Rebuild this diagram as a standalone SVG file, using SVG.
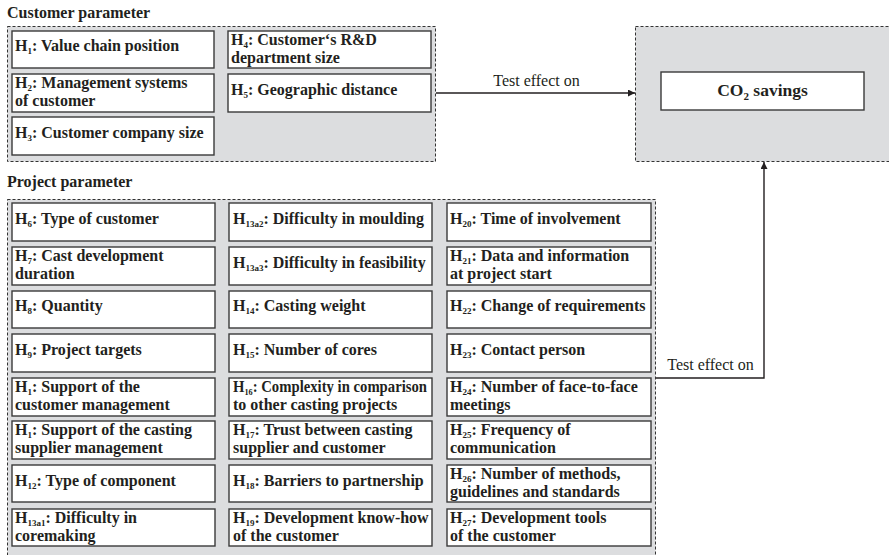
<svg xmlns="http://www.w3.org/2000/svg" width="889" height="555" viewBox="0 0 889 555">
<defs>
<style>
.bg{fill:#dcdddf;stroke:#333;stroke-width:1;stroke-dasharray:3,2}
.box{fill:#fff;stroke:#3a3a3a;stroke-width:1.4}
.t{font-family:"Liberation Serif","Times New Roman",serif;font-size:16px;font-weight:bold;fill:#231f20}
.s{font-size:9px}
.lbl{font-family:"Liberation Serif","Times New Roman",serif;font-size:16px;fill:#231f20}
.ttl{font-family:"Liberation Serif","Times New Roman",serif;font-size:16px;font-weight:bold;fill:#231f20}
.con{fill:none;stroke:#231f20;stroke-width:1.4}
</style>
<marker id="arr" viewBox="0 0 10 10" refX="10" refY="5" markerWidth="7" markerHeight="7" markerUnits="userSpaceOnUse" orient="auto">
<path d="M0,0 L10,5 L0,10 z" fill="#231f20"/>
</marker>
</defs>
<rect width="889" height="555" fill="#fff"/>

<g id="customer-group">
<text class="ttl" x="7" y="18">Customer parameter</text>
<rect class="bg" x="7.5" y="26.5" width="428" height="135"/>
</g>
<g id="project-group">
<text class="ttl" x="7" y="187">Project parameter</text>
<rect class="bg" x="7.5" y="199.5" width="648" height="365"/>
</g>
<g id="co2-group">
<rect class="bg" x="635.5" y="26.5" width="262" height="135"/>
</g>

<g id="connectors">
<path class="con" d="M436,93 H635" marker-end="url(#arr)"/>
<text class="lbl" x="536.5" y="86" text-anchor="middle">Test effect on</text>
<path class="con" d="M656,378 H764 V162" marker-end="url(#arr)"/>
<text class="lbl" x="710.5" y="370" text-anchor="middle">Test effect on</text>
</g>

<g id="co2">
<rect class="box" x="661" y="72" width="203" height="38"/>
<text class="t" x="762.5" y="96" text-anchor="middle" style="font-size:17.5px">CO<tspan style="font-size:11px" dy="4">2</tspan><tspan dy="-4"> savings</tspan></text>
</g>

<g id="H1">
<rect class="box" x="12" y="31" width="202" height="37"/>
<text class="t" x="15" y="51">H<tspan class="s" dy="2.5">1</tspan><tspan dy="-2.5">: Value chain position</tspan></text>
</g>
<g id="H2">
<rect class="box" x="12" y="74" width="202" height="38"/>
<text class="t" x="15" y="88">H<tspan class="s" dy="2.5">2</tspan><tspan dy="-2.5">: Management systems</tspan></text>
<text class="t" x="15" y="106">of customer</text>
</g>
<g id="H3">
<rect class="box" x="12" y="117" width="202" height="38"/>
<text class="t" x="15" y="138">H<tspan class="s" dy="2.5">3</tspan><tspan dy="-2.5">: Customer company size</tspan></text>
</g>
<g id="H4">
<rect class="box" x="228" y="31" width="203" height="37"/>
<text class="t" x="231" y="45">H<tspan class="s" dy="2.5">4</tspan><tspan dy="-2.5">: Customer‘s R&amp;D</tspan></text>
<text class="t" x="231" y="63">department size</text>
</g>
<g id="H5">
<rect class="box" x="228" y="74" width="203" height="38"/>
<text class="t" x="231" y="95">H<tspan class="s" dy="2.5">5</tspan><tspan dy="-2.5">: Geographic distance</tspan></text>
</g>

<g id="H6">
<rect class="box" x="12" y="203" width="203" height="38"/>
<text class="t" x="15" y="224">H<tspan class="s" dy="2.5">6</tspan><tspan dy="-2.5">: Type of customer</tspan></text>
</g>
<g id="H7">
<rect class="box" x="12" y="247" width="203" height="38"/>
<text class="t" x="15" y="261">H<tspan class="s" dy="2.5">7</tspan><tspan dy="-2.5">: Cast development</tspan></text>
<text class="t" x="15" y="279">duration</text>
</g>
<g id="H8">
<rect class="box" x="12" y="291" width="203" height="37"/>
<text class="t" x="15" y="311">H<tspan class="s" dy="2.5">8</tspan><tspan dy="-2.5">: Quantity</tspan></text>
</g>
<g id="H9">
<rect class="box" x="12" y="334" width="203" height="38"/>
<text class="t" x="15" y="355">H<tspan class="s" dy="2.5">9</tspan><tspan dy="-2.5">: Project targets</tspan></text>
</g>
<g id="H10">
<rect class="box" x="12" y="378" width="203" height="38"/>
<text class="t" x="15" y="392">H<tspan class="s" dy="2.5">1</tspan><tspan dy="-2.5">: Support of the</tspan></text>
<text class="t" x="15" y="410">customer management</text>
</g>
<g id="H11">
<rect class="box" x="12" y="421" width="203" height="38"/>
<text class="t" x="15" y="435">H<tspan class="s" dy="2.5">1</tspan><tspan dy="-2.5">: Support of the casting</tspan></text>
<text class="t" x="15" y="453">supplier management</text>
</g>
<g id="H12">
<rect class="box" x="12" y="465" width="203" height="37"/>
<text class="t" x="15" y="486">H<tspan class="s" dy="2.5">12</tspan><tspan dy="-2.5">: Type of component</tspan></text>
</g>
<g id="H13a1">
<rect class="box" x="12" y="509" width="203" height="37"/>
<text class="t" x="15" y="523">H<tspan class="s" dy="2.5">13a1</tspan><tspan dy="-2.5">: Difficulty in</tspan></text>
<text class="t" x="15" y="541">coremaking</text>
</g>

<g id="H13a2">
<rect class="box" x="229" y="203" width="203" height="38"/>
<text class="t" x="233" y="224">H<tspan class="s" dy="2.5">13a2</tspan><tspan dy="-2.5">: Difficulty in moulding</tspan></text>
</g>
<g id="H13a3">
<rect class="box" x="229" y="247" width="203" height="38"/>
<text class="t" x="233" y="268">H<tspan class="s" dy="2.5">13a3</tspan><tspan dy="-2.5">: Difficulty in feasibility</tspan></text>
</g>
<g id="H14">
<rect class="box" x="229" y="291" width="203" height="37"/>
<text class="t" x="233" y="311">H<tspan class="s" dy="2.5">14</tspan><tspan dy="-2.5">: Casting weight</tspan></text>
</g>
<g id="H15">
<rect class="box" x="229" y="334" width="203" height="38"/>
<text class="t" x="233" y="355">H<tspan class="s" dy="2.5">15</tspan><tspan dy="-2.5">: Number of cores</tspan></text>
</g>
<g id="H16">
<rect class="box" x="229" y="378" width="203" height="38"/>
<text class="t" x="233" y="392" textLength="194" lengthAdjust="spacingAndGlyphs">H<tspan class="s" dy="2.5">16</tspan><tspan dy="-2.5">: Complexity in comparison</tspan></text>
<text class="t" x="233" y="410">to other casting projects</text>
</g>
<g id="H17">
<rect class="box" x="229" y="421" width="203" height="38"/>
<text class="t" x="233" y="435">H<tspan class="s" dy="2.5">17</tspan><tspan dy="-2.5">: Trust between casting</tspan></text>
<text class="t" x="233" y="453">supplier and customer</text>
</g>
<g id="H18">
<rect class="box" x="229" y="465" width="203" height="37"/>
<text class="t" x="233" y="486">H<tspan class="s" dy="2.5">18</tspan><tspan dy="-2.5">: Barriers to partnership</tspan></text>
</g>
<g id="H19">
<rect class="box" x="229" y="509" width="203" height="37"/>
<text class="t" x="233" y="523">H<tspan class="s" dy="2.5">19</tspan><tspan dy="-2.5">: Development know-how</tspan></text>
<text class="t" x="233" y="541">of the customer</text>
</g>

<g id="H20">
<rect class="box" x="447" y="203" width="204" height="38"/>
<text class="t" x="450" y="224">H<tspan class="s" dy="2.5">20</tspan><tspan dy="-2.5">: Time of involvement</tspan></text>
</g>
<g id="H21">
<rect class="box" x="447" y="247" width="204" height="38"/>
<text class="t" x="450" y="261">H<tspan class="s" dy="2.5">21</tspan><tspan dy="-2.5">: Data and information</tspan></text>
<text class="t" x="450" y="279">at project start</text>
</g>
<g id="H22">
<rect class="box" x="447" y="291" width="204" height="37"/>
<text class="t" x="450" y="311">H<tspan class="s" dy="2.5">22</tspan><tspan dy="-2.5">: Change of requirements</tspan></text>
</g>
<g id="H23">
<rect class="box" x="447" y="334" width="204" height="38"/>
<text class="t" x="450" y="355">H<tspan class="s" dy="2.5">23</tspan><tspan dy="-2.5">: Contact person</tspan></text>
</g>
<g id="H24">
<rect class="box" x="447" y="378" width="204" height="38"/>
<text class="t" x="450" y="392">H<tspan class="s" dy="2.5">24</tspan><tspan dy="-2.5">: Number of face-to-face</tspan></text>
<text class="t" x="450" y="410">meetings</text>
</g>
<g id="H25">
<rect class="box" x="447" y="421" width="204" height="38"/>
<text class="t" x="450" y="435">H<tspan class="s" dy="2.5">25</tspan><tspan dy="-2.5">: Frequency of</tspan></text>
<text class="t" x="450" y="453">communication</text>
</g>
<g id="H26">
<rect class="box" x="447" y="465" width="204" height="37"/>
<text class="t" x="450" y="479">H<tspan class="s" dy="2.5">26</tspan><tspan dy="-2.5">: Number of methods,</tspan></text>
<text class="t" x="450" y="497">guidelines and standards</text>
</g>
<g id="H27">
<rect class="box" x="447" y="509" width="204" height="37"/>
<text class="t" x="450" y="523">H<tspan class="s" dy="2.5">27</tspan><tspan dy="-2.5">: Development tools</tspan></text>
<text class="t" x="450" y="541">of the customer</text>
</g>
</svg>
